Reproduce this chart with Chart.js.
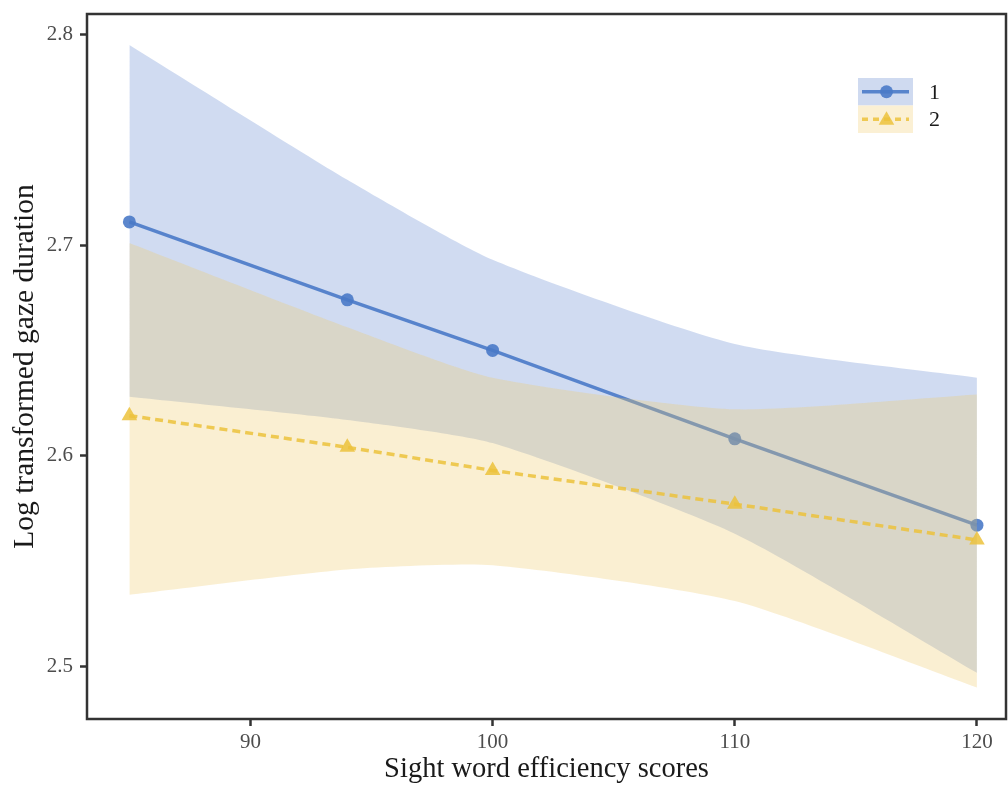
<!DOCTYPE html>
<html lang="en">
<head>
<meta charset="UTF-8">
<title>Gaze duration by sight word efficiency</title>
<script src="https://cdn.jsdelivr.net/npm/chart.js"></script>
<style>
    html, body {
        margin: 0;
        padding: 0;
        background: #fff;
    }
    canvas {
        display: block;
    }
</style>
</head>
<body>
<canvas id="gazeChart" width="1008" height="787"></canvas>
<script>
// values
const scores = [85, 94, 100, 110, 120];
const groupLabels = ['1', '2'];
const group1Fit = [2.711, 2.674, 2.650, 2.608, 2.567];
const group1Upper = [2.795, 2.731, 2.693, 2.653, 2.637];
const group1Lower = [2.628, 2.617, 2.606, 2.563, 2.497];
const group2Fit = [2.619, 2.604, 2.593, 2.577, 2.560];
const group2Upper = [2.701, 2.661, 2.637, 2.622, 2.629];
const group2Lower = [2.534, 2.546, 2.548, 2.531, 2.490];
const xTicks = [90, 100, 110, 120];
const yTicks = [2.5, 2.6, 2.7, 2.8];

const SERIF = "'Liberation Serif', 'Times New Roman', serif";
const blueLine = 'rgba(74, 122, 200, 0.9)';
const blueBand = 'rgba(112, 146, 214, 0.33)';
const yellowLine = 'rgba(236, 194, 60, 0.85)';
const yellowBand = 'rgba(238, 202, 105, 0.3)';

const pts = (ys) => scores.map((x, i) => ({ x: x, y: ys[i] }));

const band = (ys, extra) => Object.assign({
    data: pts(ys),
    borderWidth: 0,
    pointRadius: 0,
    tension: 0.2,
    fill: false
}, extra);

// frame round the plot panel
const framePlugin = {
    id: 'frame',
    afterDraw(chart) {
        const { ctx, chartArea: a } = chart;
        ctx.save();
        ctx.strokeStyle = '#333';
        ctx.lineWidth = 2.5;
        ctx.strokeRect(a.left, a.top, a.right - a.left, a.bottom - a.top);
        ctx.restore();
    }
};

// legend drawn inside the panel, top right
const keyPlugin = {
    id: 'keyInside',
    afterDraw(chart) {
        const { ctx } = chart;
        const keys = [
            { ds: chart.data.datasets[2], bg: 'rgb(207, 218, 240)', dash: [] },
            { ds: chart.data.datasets[5], bg: 'rgb(251, 240, 212)', dash: [6, 5] }
        ];
        const x0 = 858, y0 = 78, w = 55, h = 27.5;
        ctx.save();
        keys.forEach((k, i) => {
            const top = y0 + i * h;
            const cy = top + h / 2;
            ctx.fillStyle = k.bg;
            ctx.fillRect(x0, top, w, h);
            ctx.strokeStyle = k.ds.borderColor;
            ctx.lineWidth = 3.5;
            ctx.setLineDash(k.dash);
            ctx.beginPath();
            ctx.moveTo(x0 + 4, cy);
            ctx.lineTo(x0 + w - 4, cy);
            ctx.stroke();
            ctx.setLineDash([]);
            ctx.fillStyle = k.ds.pointBackgroundColor;
            ctx.strokeStyle = k.ds.pointBackgroundColor;
            Chart.helpers.drawPoint(ctx, {
                pointStyle: k.ds.pointStyle,
                radius: k.ds.pointRadius,
                rotation: 0,
                borderWidth: 0
            }, x0 + w / 2 + 1, cy + (i === 1 ? 1 : 0));
            ctx.fillStyle = '#1a1a1a';
            ctx.font = '22px ' + SERIF;
            ctx.textBaseline = 'middle';
            ctx.textAlign = 'left';
            ctx.fillText(groupLabels[i], x0 + w + 16, cy + 1);
        });
        ctx.restore();
    }
};

const tickFont = { family: SERIF, size: 21 };
const tickGrid = {
    drawOnChartArea: false,
    drawTicks: true,
    tickLength: 7,
    tickColor: '#333',
    tickWidth: 2.5
};

const ctx = document.getElementById('gazeChart').getContext('2d');
const gazeChart = new Chart(ctx, {
    type: 'line',
    data: {
        datasets: [
            band(group1Lower, { label: 'g1 lower', order: 4 }),
            band(group1Upper, { label: 'g1 upper', order: 3, fill: { target: 0 }, backgroundColor: blueBand }),
            {
                label: groupLabels[0],
                data: pts(group1Fit),
                order: 2,
                borderColor: blueLine,
                borderWidth: 3.5,
                pointStyle: 'circle',
                pointRadius: 6.5,
                pointBackgroundColor: blueLine,
                pointBorderWidth: 0,
                tension: 0,
                fill: false
            },
            band(group2Lower, { label: 'g2 lower', order: 4 }),
            band(group2Upper, { label: 'g2 upper', order: 1, fill: { target: 3 }, backgroundColor: yellowBand }),
            {
                label: groupLabels[1],
                data: pts(group2Fit),
                order: 0,
                borderColor: yellowLine,
                borderWidth: 3.5,
                borderDash: [8, 5],
                pointStyle: 'triangle',
                pointRadius: 9,
                pointBackgroundColor: yellowLine,
                pointBorderWidth: 0,
                tension: 0,
                fill: false
            }
        ]
    },
    options: {
        responsive: false,
        animation: false,
        layout: {
            autoPadding: false,
            padding: { top: 14, right: 2, left: 0, bottom: 0 }
        },
        plugins: {
            legend: { display: false },
            tooltip: { enabled: false }
        },
        scales: {
            x: {
                type: 'linear',
                min: 83.25,
                max: 121.2,
                afterBuildTicks: (s) => { s.ticks = xTicks.map(v => ({ value: v })); },
                afterFit: (s) => {
                    s.height = 68;
                    s.paddingLeft = 0;
                    s.paddingRight = 0;
                },
                ticks: { color: '#4d4d4d', font: tickFont, padding: 4 },
                grid: tickGrid,
                border: { display: false },
                title: {
                    display: true,
                    text: 'Sight word efficiency scores',
                    color: '#1a1a1a',
                    font: { family: SERIF, size: 28.5 },
                    padding: { top: 0, bottom: 0 }
                }
            },
            y: {
                type: 'linear',
                min: 2.475,
                max: 2.8097,
                afterBuildTicks: (s) => { s.ticks = yTicks.map(v => ({ value: v })); },
                afterFit: (s) => {
                    s.width = 87;
                    s.paddingTop = 0;
                    s.paddingBottom = 0;
                },
                ticks: {
                    color: '#4d4d4d',
                    font: tickFont,
                    padding: 7,
                    callback: (v) => Number(v).toFixed(1)
                },
                grid: tickGrid,
                border: { display: false },
                title: {
                    display: true,
                    text: 'Log transformed gaze duration',
                    color: '#1a1a1a',
                    font: { family: SERIF, size: 29.5 },
                    padding: { top: 8, bottom: 0 }
                }
            }
        }
    },
    plugins: [framePlugin, keyPlugin]
});
</script>
</body>
</html>
